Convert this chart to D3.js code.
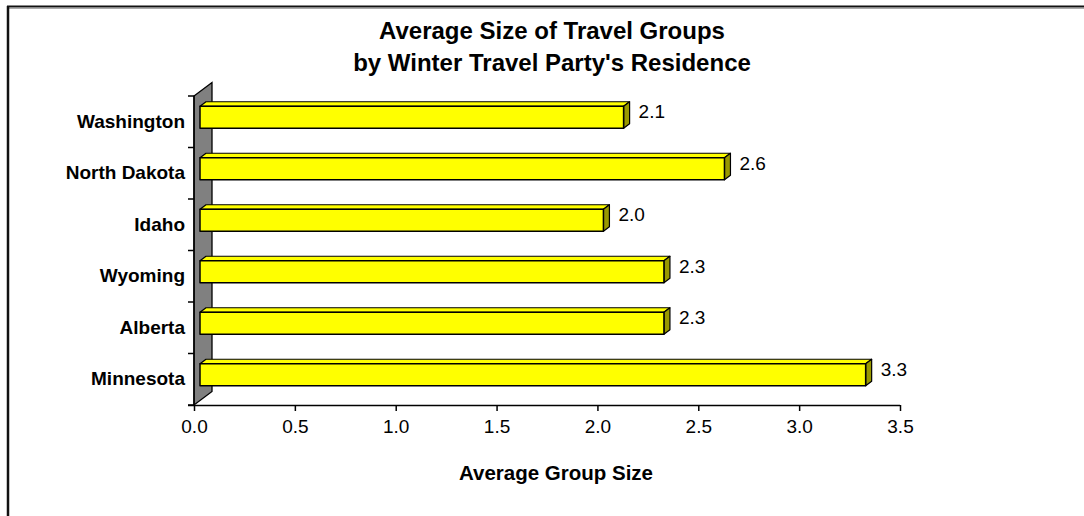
<!DOCTYPE html>
<html>
<head>
<meta charset="utf-8">
<script src="https://cdn.jsdelivr.net/npm/d3@7"></script>
<style>
  html, body { margin: 0; padding: 0; background: #fff; }
  svg { display: block; font-family: "Liberation Sans", Arial, sans-serif; }
</style>
</head>
<body>
<svg id="chart" width="1084" height="516"></svg>
<script>
const categories = ["Washington", "North Dakota", "Idaho", "Wyoming", "Alberta", "Minnesota"];
const values = [2.1, 2.6, 2.0, 2.3, 2.3, 3.3];
const xTicks = [0, 0.5, 1.0, 1.5, 2.0, 2.5, 3.0, 3.5];
const titleLines = ["Average Size of Travel Groups", "by Winter Travel Party's Residence"];
const xAxisTitle = "Average Group Size";

const svg = d3.select("#chart");
const W = 1084, H = 516;
const FONT = "Liberation Sans, Arial, sans-serif";

// frame
svg.append("rect").attr("x", 0).attr("y", 0).attr("width", W).attr("height", H).attr("fill", "#fff");
svg.append("line").attr("x1", 8).attr("x2", W).attr("y1", 8.5).attr("y2", 8.5).attr("stroke", "#aaa").attr("stroke-width", 1);
svg.append("line").attr("x1", 7).attr("x2", W).attr("y1", 6.5).attr("y2", 6.5).attr("stroke", "#111").attr("stroke-width", 2);
svg.append("line").attr("x1", 8).attr("x2", 8).attr("y1", 6).attr("y2", H).attr("stroke", "#111").attr("stroke-width", 2.5);

const x = d3.scaleLinear().domain([0, 3.5]).range([194, 900]);
const y = d3.scaleBand().domain(categories).range([96, 405]).paddingInner(0).paddingOuter(0);

// depth projection
const DX = 18, DY = -13.5;
const proj = (px, py, d) => [px + DX * d, py + DY * d];

const g = svg.append("g");

// side wall (floor) at value 0
const x0 = x(0), yTop = y.range()[0], yBot = y.range()[1];
const wallPts = [proj(x0, yTop, 0), proj(x0, yTop, 1), proj(x0, yBot, 1), proj(x0, yBot, 0)];
g.append("path")
  .attr("d", "M" + wallPts.map(p => p.join(",")).join("L") + "Z")
  .attr("fill", "#808080").attr("stroke", "#000").attr("stroke-width", 1.3);

// bars
const d0 = 1 / 3, d1 = 2 / 3;
const barH = 22;
const bars = g.selectAll("g.bar").data(categories.map((c, i) => ({ c, v: values[i] }))).join("g").attr("class", "bar");
bars.each(function (d) {
  const sel = d3.select(this);
  const cy = y(d.c) + y.bandwidth() / 2;
  const t = cy - barH / 2, b = cy + barH / 2;
  const xl = x(0), xr = x(d.v);
  const pf = (px, py) => proj(px, py, d0);
  const pb = (px, py) => proj(px, py, d1);
  const poly = pts => "M" + pts.map(p => p.join(",")).join("L") + "Z";
  sel.append("path").attr("d", poly([pf(xl, t), pb(xl, t), pb(xr, t), pf(xr, t)]))
    .attr("fill", "#ffff00").attr("stroke", "#000").attr("stroke-width", 1.2).attr("stroke-linejoin", "round");
  sel.append("path").attr("d", poly([pf(xr, t), pb(xr, t), pb(xr, b), pf(xr, b)]))
    .attr("fill", "#999900").attr("stroke", "#000").attr("stroke-width", 1.2).attr("stroke-linejoin", "round");
  sel.append("path").attr("d", poly([pf(xl, t), pf(xr, t), pf(xr, b), pf(xl, b)]))
    .attr("fill", "#ffff00").attr("stroke", "#000").attr("stroke-width", 1.5).attr("stroke-linejoin", "round");
  const lp = pb(xr, cy);
  sel.append("text").attr("x", lp[0] + 9).attr("y", y(d.c) + y.bandwidth() / 2 - 10)
    .attr("dominant-baseline", "central").attr("font-size", 19).attr("fill", "#000")
    .text(d3.format(".1f")(d.v));
});

// value axis
const xAxis = d3.axisBottom(x).tickValues(xTicks).tickFormat(d3.format(".1f")).tickSize(6).tickSizeOuter(0);
const gx = svg.append("g").attr("transform", "translate(0,405)").call(xAxis);
gx.select(".domain").attr("stroke", "#000").attr("stroke-width", 1.5).attr("d", `M${x(0) - 6},0.5H${x(3.5)}`);
gx.selectAll(".tick line").attr("stroke", "#000").attr("stroke-width", 1.5);
gx.selectAll(".tick text").attr("font-size", 19).attr("font-family", FONT).attr("fill", "#000").attr("dy", "1.0em");

// category axis
const yAxis = d3.axisLeft(y).tickSize(0).tickPadding(9);
const gy = svg.append("g").attr("transform", `translate(${x(0)},0)`).call(yAxis);
gy.select(".domain").attr("stroke", "#000").attr("stroke-width", 1.5).attr("d", `M0,${yTop}V${yBot}`);
gy.selectAll(".tick text").attr("font-size", 19).attr("font-weight", "bold").attr("font-family", FONT).attr("fill", "#000");
const bounds = categories.map(c => y(c)).concat([yBot]);
gy.selectAll("line.bnd").data(bounds).join("line").attr("class", "bnd")
  .attr("x1", -6).attr("x2", 0).attr("y1", d => d).attr("y2", d => d)
  .attr("stroke", "#000").attr("stroke-width", 1.5);

// title
const title = svg.append("text").attr("text-anchor", "middle").attr("font-weight", "bold").attr("font-size", 24).attr("fill", "#000");
titleLines.forEach((l, i) => title.append("tspan").attr("x", 552).attr("y", 39 + i * 32).text(l));

// axis title
svg.append("text").attr("x", 556).attr("y", 480).attr("text-anchor", "middle").attr("font-weight", "bold").attr("font-size", 20.5).attr("fill", "#000").text(xAxisTitle);
</script>
</body>
</html>
